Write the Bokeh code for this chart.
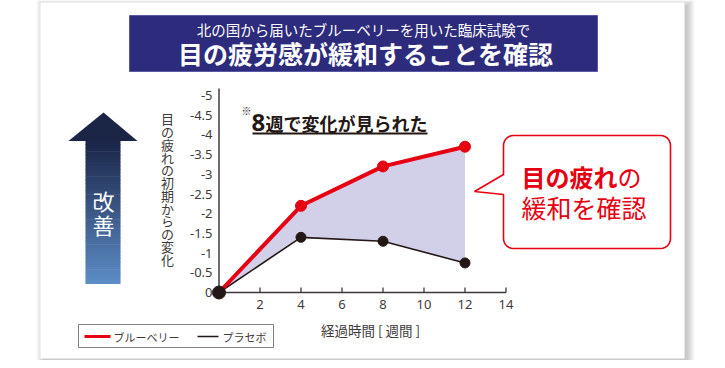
import numpy as np
from bokeh.plotting import figure
from bokeh.models import Range1d
from bokeh.core.properties import value
from bokeh.embed import file_html
from bokeh.resources import INLINE

# ---------------- data ----------------
weeks = [0, 4, 8, 12]
blueberry = [0, -2.2, -3.2, -3.7]
placebo = [0, -1.4, -1.3, -0.75]
x_ticks = [2, 4, 6, 8, 10, 12, 14]
x_tick_labels = ["2", "4", "6", "8", "10", "12", "14"]
y_ticks = [-5, -4.5, -4, -3.5, -3, -2.5, -2, -1.5, -1, -0.5, 0]
y_tick_labels = ["-5", "-4.5", "-4", "-3.5", "-3", "-2.5", "-2", "-1.5", "-1", "-0.5", "0"]
title_line1 = "北の国から届いたブルーベリーを用いた臨床試験で"
title_line2 = "目の疲労感が緩和することを確認"
y_title = "目の疲れの初期からの変化"
x_title = "経過時間 [ 週間 ]"
arrow_label = "改善"
note_mark, note_num, note_text = "※", "8", "週で変化が見られた"
callout_bold, callout_rest = "目の疲れ", "の"
callout_line2 = "緩和を確認"
legend_labels = ["ブルーベリー", "プラセボ"]

# ---------------- layout ----------------
W, H = 717, 360
OX, OY = 0, 0                    # canvas offset in page pixels (measured)
X_ORIGIN, X_PER = 218.5, 20.5    # page px of x=0, px per week
Y_ORIGIN, Y_PER = 292.0, 39.4    # page px of y=0, px per unit

JP = value("Noto Sans CJK JP")
NUM = value("Noto Sans")
AX = "#3e3a39"
RED = "#e60012"
BLK = "#231815"

p = figure(width=W, height=H, output_backend="svg", toolbar_location=None,
           title=None, x_axis_type=None, y_axis_type=None,
           x_range=Range1d((OX - X_ORIGIN) / X_PER, (OX + W - X_ORIGIN) / X_PER),
           y_range=Range1d((OY + H - Y_ORIGIN) / Y_PER, (OY - Y_ORIGIN) / Y_PER),
           min_border=0, min_border_left=0, min_border_right=0,
           min_border_top=0, min_border_bottom=0)
p.outline_line_color = None
p.background_fill_color = "white"
p.border_fill_color = "white"
p.extra_x_ranges = {"px": Range1d(OX, OX + W)}
p.extra_y_ranges = {"px": Range1d(OY + H, OY)}
PX = dict(x_range_name="px", y_range_name="px")

# card shadow + card
for k in range(8):
    p.quad(left=[40 + 3 - k], right=[684 + 3 + k], top=[2 + 3 - k], bottom=[358 + 3 + k],
           fill_color="#000000", fill_alpha=0.028, line_color=None, **PX)
p.quad(left=[40], right=[684], top=[2], bottom=[358], fill_color="white", line_color=None, **PX)

# title banner
p.quad(left=[129], right=[597], top=[15], bottom=[71], fill_color="#2d2b7b",
       line_color="#5a59a6", line_width=1, **PX)
p.text(x=[363], y=[29], text=[title_line1], text_font=JP, text_font_size="14.5px",
       text_color="white", text_align="center", text_baseline="middle", **PX)
p.text(x=[365], y=[52], text=[title_line2], text_font=JP, text_font_size="25px",
       text_font_style="bold", text_color="white", text_align="center",
       text_baseline="middle", **PX)

# improvement arrow with vertical gradient
n = 40
top_c = np.array([27, 38, 72])
bot_c = np.array([92, 140, 197])
ys = np.linspace(140, 283, n + 1)
for i in range(n):
    t = i / (n - 1)
    c = (top_c + (bot_c - top_c) * t).astype(int)
    p.quad(left=[85], right=[120], top=[ys[i]], bottom=[ys[i + 1] + 0.6],
           fill_color="#%02x%02x%02x" % tuple(c), line_color=None, **PX)
p.patch(x=[68, 137, 103], y=[140.5, 140.5, 112], fill_color="#1b2546", line_color=None, **PX)
p.text(x=[103, 103], y=[199, 223], text=list(arrow_label), text_font=JP,
       text_font_size="22px", text_color="white", text_align="center",
       text_baseline="middle", **PX)

# vertical y-axis title
p.text(x=[167] * len(y_title), y=[118.4 + 12.75 * i for i in range(len(y_title))],
       text=list(y_title), text_font=JP, text_font_size="13px", text_color=AX,
       text_align="center", text_baseline="middle", **PX)

# filled area between the series
p.patch(x=weeks + weeks[::-1], y=blueberry + placebo[::-1],
        fill_color="#d2d0e9", line_color=None)

# axes
p.segment(x0=[0], y0=[0], x1=[0], y1=[min(y_ticks) - 0.18], line_color=AX, line_width=1.5)
p.segment(x0=[0], y0=[0], x1=[max(x_ticks)], y1=[0], line_color=AX, line_width=1.5)
p.segment(x0=x_ticks, y0=[Y_ORIGIN] * len(x_ticks), x1=x_ticks,
          y1=[Y_ORIGIN - 5] * len(x_ticks), line_color=AX, line_width=1.3,
          y_range_name="px")
p.text(x=x_ticks, y=[304] * len(x_ticks), text=x_tick_labels, text_font=NUM,
       text_font_size="13px", text_color=AX, text_align="center",
       text_baseline="middle", y_range_name="px")
p.text(x=[212] * len(y_ticks), y=y_ticks, text=y_tick_labels, text_font=NUM,
       text_font_size="13px", text_color=AX, text_align="right",
       text_baseline="middle", x_range_name="px")
p.text(x=[370], y=[329], text=[x_title], text_font=JP, text_font_size="13.5px",
       text_color=AX, text_align="center", text_baseline="middle", **PX)

# series
p.line(weeks, placebo, line_color=BLK, line_width=1.6)
p.line(weeks, blueberry, line_color=RED, line_width=4)
p.scatter(weeks[1:], blueberry[1:], size=11, color=RED)
p.scatter(weeks[1:], placebo[1:], size=10, color=BLK)
p.scatter(weeks[:1], placebo[:1], size=13, color=BLK)

# note "※8週で変化が見られた"
p.text(x=[241], y=[110], text=[note_mark], text_font=JP, text_font_size="10px",
       text_color=BLK, text_align="left", text_baseline="middle", **PX)
p.text(x=[251], y=[122], text=[note_num], text_font=NUM, text_font_size="24px",
       text_font_style="bold", text_color=BLK, text_align="left",
       text_baseline="middle", **PX)
p.text(x=[265], y=[122], text=[note_text], text_font=JP, text_font_size="18px",
       text_font_style="bold", text_color=BLK, text_align="left",
       text_baseline="middle", **PX)
p.segment(x0=[252], y0=[133], x1=[427], y1=[133], line_color=BLK, line_width=2, **PX)

# callout bubble
L, R, T, B, r = 503, 670, 135, 248, 10
def arc(cx, cy, a0, a1, m=8):
    a = np.linspace(a0, a1, m)
    return list(cx + r * np.cos(a)), list(cy + r * np.sin(a))
bx, by = [], []
for seg in [arc(R - r, T + r, -np.pi / 2, 0), arc(R - r, B - r, 0, np.pi / 2),
            arc(L + r, B - r, np.pi / 2, np.pi)]:
    bx += seg[0]; by += seg[1]
bx += [L, 474, L]; by += [194, 191, 174]
sx, sy = arc(L + r, T + r, np.pi, 1.5 * np.pi)
bx += sx; by += sy
p.patch(x=bx, y=by, fill_color="white", line_color=RED, line_width=1.6, **PX)
p.text(x=[521], y=[176], text=[callout_bold], text_font=JP, text_font_size="24px",
       text_font_style="bold", text_color=RED, text_align="left",
       text_baseline="middle", **PX)
p.text(x=[617], y=[176], text=[callout_rest], text_font=JP, text_font_size="24px",
       text_color=RED, text_align="left", text_baseline="middle", **PX)
p.text(x=[521], y=[206], text=[callout_line2], text_font=JP, text_font_size="25px",
       text_color=RED, text_align="left", text_baseline="middle", **PX)

# legend
p.quad(left=[78], right=[273], top=[324], bottom=[347], fill_color="white",
       line_color="#808080", line_width=1, **PX)
p.segment(x0=[84], y0=[336], x1=[110], y1=[336], line_color=RED, line_width=3, **PX)
p.segment(x0=[197], y0=[336], x1=[218], y1=[336], line_color=BLK, line_width=1.5, **PX)
p.text(x=[113, 222], y=[336, 336], text=legend_labels, text_font=JP,
       text_font_size="11px", text_color=AX, text_align="left",
       text_baseline="middle", **PX)

open("out.html", "w").write(file_html(p, INLINE))
